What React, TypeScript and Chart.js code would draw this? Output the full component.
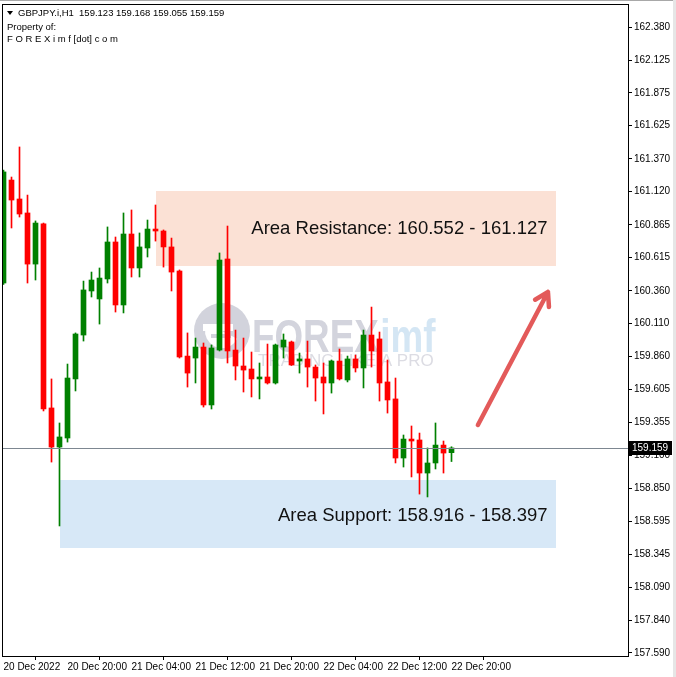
import React, { useEffect, useRef } from "react";
import { Chart, registerables } from "chart.js";

Chart.register(...registerables);

const symbolTitle = "GBPJPY.i,H1";
const propertyLine1 = "Property of:";
const propertyLine2 = "F O R E X i m f [dot] c o m";

const xTickBars = [0, 8, 16, 24, 32, 40, 48, 56];
const xTickLabels = [
  "20 Dec 2022",
  "20 Dec 20:00",
  "21 Dec 04:00",
  "21 Dec 12:00",
  "21 Dec 20:00",
  "22 Dec 04:00",
  "22 Dec 12:00",
  "22 Dec 20:00",
];
const yTickValues = [
  162.38, 162.125, 161.875, 161.625, 161.37, 161.12, 160.865, 160.615, 160.36, 160.11,
  159.86, 159.605, 159.355, 159.1, 158.85, 158.595, 158.345, 158.09, 157.84, 157.59,
];

const opens = [
  160.421, 161.209, 161.064, 160.957, 160.566, 160.873, 159.465, 159.166, 159.235, 159.687,
  160.023, 160.36, 160.299, 160.452, 160.735, 160.253, 160.796, 160.536, 160.689, 160.834,
  160.819, 160.697, 160.513, 159.862, 159.847, 159.931, 159.488, 159.908, 160.605, 159.908,
  159.786, 159.763, 159.687, 159.702, 159.656, 159.931, 159.97, 159.824, 159.84, 159.778,
  159.702, 159.656, 159.824, 159.679, 159.84, 159.771, 160.023, 159.993, 159.664, 159.534,
  159.082, 159.227, 159.22, 158.967, 159.044, 159.181, 159.123,
];
const highs = [
  161.285, 161.232, 161.462, 161.094, 160.896, 160.88, 159.687, 159.35, 159.801, 160.039,
  160.436, 160.505, 160.536, 160.85, 160.773, 160.957, 160.98, 160.804, 160.903, 161.018,
  160.827, 160.765, 160.521, 160.039, 160.0, 159.962, 159.947, 160.651, 160.857, 160.061,
  160.0, 159.893, 159.809, 159.954, 159.954, 160.031, 159.977, 159.885, 159.977, 159.794,
  159.809, 159.832, 159.916, 159.862, 159.87, 160.061, 160.237, 160.046, 159.832, 159.694,
  159.258, 159.327, 159.273, 159.159, 159.35, 159.212, 159.168,
];
const lows = [
  160.41, 160.842, 160.926, 160.421, 160.444, 159.442, 159.051, 158.562, 159.204, 159.595,
  159.977, 160.314, 160.107, 160.421, 160.199, 160.192, 160.467, 160.467, 160.62, 160.742,
  160.543, 160.36, 159.847, 159.625, 159.656, 159.472, 159.457, 159.901, 159.809, 159.679,
  159.587, 159.549, 159.534, 159.648, 159.648, 159.847, 159.79, 159.732, 159.625, 159.518,
  159.419, 159.579, 159.679, 159.664, 159.74, 159.618, 159.778, 159.518, 159.426, 159.044,
  159.013, 158.937, 158.806, 158.784, 158.998, 158.967, 159.055,
];
const closes = [
  161.271, 161.056, 160.949, 160.566, 160.88, 159.457, 159.166, 159.243, 159.694, 160.031,
  160.368, 160.444, 160.459, 160.735, 160.253, 160.796, 160.536, 160.697, 160.834, 160.819,
  160.697, 160.505, 159.855, 159.732, 159.931, 159.488, 159.924, 160.597, 159.901, 159.786,
  159.755, 159.687, 159.702, 159.656, 159.947, 159.985, 159.794, 159.84, 159.778, 159.694,
  159.656, 159.824, 159.687, 159.84, 159.771, 160.023, 159.901, 159.656, 159.526, 159.082,
  159.227, 159.212, 158.967, 159.044, 159.181, 159.12, 159.159,
];

// zones: [fromBar, toBar], [lowPrice, highPrice]
const resistanceBars = [19, 69];
const resistancePrices = [160.552, 161.127];
const supportBars = [7, 69];
const supportPrices = [158.397, 158.916];
const resistanceLabel = "Area Resistance: 160.552 - 161.127";
const supportLabel = "Area Support: 158.916 - 158.397";

// arrow: [bar, price]
const arrowStart = [59.3, 159.335];
const arrowEnd = [68.06, 160.352];

const watermarkMain = "FOREX";
const watermarkSub = "imf";
const watermarkTag = "TRADING LIKE A PRO";

const X_MIN = -0.1875;
const X_MAX = 78.0625;
const Y_MIN = 157.567;
const Y_MAX = 162.556;

const GREEN = "#008000";
const RED = "#ff0000";
const FONT = "'Liberation Sans', Arial, sans-serif";

export default function App() {
  const ref = useRef<HTMLCanvasElement>(null);

  useEffect(() => {
    const canvas = ref.current!;
    const idx = opens.map((_, i) => i);
    const colors = idx.map((i) => (closes[i] >= opens[i] ? GREEN : RED));
    const bodies = idx.map((i) => ({ x: i, y: [opens[i], closes[i]] }));
    const wicks = idx.map((i) => ({ x: i, y: [lows[i], highs[i]] }));
    const last = opens.length - 1;

    const overlay = {
      id: "overlay",
      beforeDraw(chart: any) {
        const ctx = chart.ctx;
        ctx.save();
        ctx.fillStyle = "#ffffff";
        ctx.fillRect(0, 0, chart.width, chart.height);
        ctx.restore();
      },
      beforeDatasetsDraw(chart: any) {
        const { ctx, chartArea: a, scales } = chart;
        const xs = scales.x;
        const ys = scales.y;
        ctx.save();
        ctx.beginPath();
        ctx.rect(a.left, a.top, a.right - a.left, a.bottom - a.top);
        ctx.clip();
        const zone = (bars: number[], prices: number[], color: string) => {
          const x1 = Math.round(xs.getPixelForValue(bars[0]));
          const x2 = Math.round(xs.getPixelForValue(bars[1]));
          const y1 = Math.round(ys.getPixelForValue(prices[1]));
          const y2 = Math.round(ys.getPixelForValue(prices[0]));
          ctx.fillStyle = color;
          ctx.fillRect(x1, y1, x2 - x1, y2 - y1);
        };
        zone(resistanceBars, resistancePrices, "#fbe1d5");
        zone(supportBars, supportPrices, "#d7e8f7");

        // watermark
        const cx = (a.left + a.right) / 2;
        const cy = (a.top + a.bottom) / 2;
        ctx.fillStyle = "#d2d3dc";
        ctx.beginPath();
        ctx.arc(cx - 93, cy + 1, 28, 0, Math.PI * 2);
        ctx.fill();
        ctx.fillStyle = "#ffffff";
        ctx.beginPath();
        ctx.arc(cx - 93, cy + 1, 17, Math.PI * 0.15, Math.PI * 1.05);
        ctx.lineTo(cx - 93, cy + 1);
        ctx.fill();
        ctx.fillRect(cx - 112, cy - 6, 30, 7);
        ctx.fillStyle = "#d2d3dc";
        ctx.fillRect(cx - 104, cy + 4, 20, 4);

        ctx.save();
        ctx.translate(cx - 63, cy + 22);
        ctx.scale(0.8, 1);
        ctx.font = `bold 46px ${FONT}`;
        ctx.textBaseline = "alphabetic";
        ctx.textAlign = "left";
        ctx.fillStyle = "#d3d4dd";
        ctx.fillText(watermarkMain, 0, 0);
        const w = ctx.measureText(watermarkMain).width;
        ctx.fillStyle = "#d4e6f4";
        ctx.fillText(watermarkSub, w + 2, 0);
        ctx.restore();

        ctx.font = `17px ${FONT}`;
        ctx.fillStyle = "#dcdce3";
        ctx.textAlign = "left";
        ctx.textBaseline = "alphabetic";
        ctx.fillText(watermarkTag, cx - 57, cy + 36);
        ctx.restore();
      },
      afterDatasetsDraw(chart: any) {
        const { ctx, chartArea: a, scales } = chart;
        const xs = scales.x;
        const ys = scales.y;
        ctx.save();
        ctx.beginPath();
        ctx.rect(a.left, a.top, a.right - a.left, a.bottom - a.top);
        ctx.clip();

        // zone labels
        ctx.font = `18.5px ${FONT}`;
        ctx.fillStyle = "#111111";
        ctx.textAlign = "right";
        ctx.textBaseline = "middle";
        const rx = xs.getPixelForValue(resistanceBars[1]) - 8;
        const ry = (ys.getPixelForValue(resistancePrices[0]) + ys.getPixelForValue(resistancePrices[1])) / 2;
        ctx.fillText(resistanceLabel, rx, ry + 1);
        const sx = xs.getPixelForValue(supportBars[1]) - 8;
        const sy = (ys.getPixelForValue(supportPrices[0]) + ys.getPixelForValue(supportPrices[1])) / 2;
        ctx.fillText(supportLabel, sx, sy + 2);

        // bid line
        const py = Math.round(ys.getPixelForValue(closes[last])) + 0.5;
        ctx.strokeStyle = "#7d8791";
        ctx.lineWidth = 1;
        ctx.beginPath();
        ctx.moveTo(a.left, py);
        ctx.lineTo(a.right, py);
        ctx.stroke();

        // arrow
        const ax1 = xs.getPixelForValue(arrowStart[0]);
        const ay1 = ys.getPixelForValue(arrowStart[1]);
        const ax2 = xs.getPixelForValue(arrowEnd[0]);
        const ay2 = ys.getPixelForValue(arrowEnd[1]);
        ctx.strokeStyle = "#e35a5a";
        ctx.lineWidth = 4.5;
        ctx.lineCap = "round";
        ctx.lineJoin = "round";
        ctx.beginPath();
        ctx.moveTo(ax1, ay1);
        ctx.lineTo(ax2, ay2);
        const ang = Math.atan2(ay2 - ay1, ax2 - ax1);
        for (const s of [-1, 1]) {
          const b = ang + Math.PI + s * 0.55;
          ctx.moveTo(ax2, ay2);
          ctx.lineTo(ax2 + 15 * Math.cos(b), ay2 + 15 * Math.sin(b));
        }
        ctx.stroke();
        ctx.restore();
      },
      afterDraw(chart: any) {
        const { ctx, chartArea: a, scales } = chart;
        const ys = scales.y;
        ctx.save();
        // frame
        ctx.strokeStyle = "#000000";
        ctx.lineWidth = 1;
        ctx.strokeRect(a.left + 0.5, a.top + 0.5, a.right - a.left, a.bottom - a.top);

        // outer window edges
        ctx.fillStyle = "#a8a8a8";
        ctx.fillRect(0, 0, chart.width, 1);
        ctx.fillStyle = "#e6e6e6";
        ctx.fillRect(chart.width - 3, 0, 3, chart.height);

        // header
        ctx.fillStyle = "#000000";
        ctx.beginPath();
        ctx.moveTo(7, 11);
        ctx.lineTo(13, 11);
        ctx.lineTo(10, 15);
        ctx.closePath();
        ctx.fill();
        ctx.font = `9.5px ${FONT}`;
        ctx.textAlign = "left";
        ctx.textBaseline = "middle";
        const hdr = `${symbolTitle}  ${opens[last].toFixed(3)} ${highs[last].toFixed(3)} ${lows[last].toFixed(3)} ${closes[last].toFixed(3)}`;
        ctx.fillText(hdr, 18, 13);
        ctx.fillText(propertyLine1, 7, 27);
        ctx.fillText(propertyLine2, 7, 39);

        // price label
        const py = Math.round(ys.getPixelForValue(closes[last]));
        ctx.fillStyle = "#000000";
        ctx.fillRect(a.right + 1, py - 7, 43, 14);
        ctx.fillStyle = "#ffffff";
        ctx.font = `10px ${FONT}`;
        ctx.textBaseline = "middle";
        ctx.fillText(closes[last].toFixed(3), a.right + 4, py + 0.5);
        ctx.restore();
      },
    };

    const chart = new Chart(canvas, {
      type: "bar",
      data: {
        datasets: [
          {
            data: wicks as any,
            backgroundColor: colors,
            barThickness: 1,
            grouped: false,
            borderWidth: 0,
            order: 2,
          },
          {
            data: bodies as any,
            backgroundColor: colors,
            barThickness: 5,
            grouped: false,
            borderWidth: 0,
            minBarLength: 1,
            order: 1,
          },
        ],
      },
      options: {
        animation: false,
        responsive: false,
        devicePixelRatio: 1,
        layout: { padding: { left: 2, top: 4, right: 0, bottom: 0 } },
        plugins: { legend: { display: false }, tooltip: { enabled: false } },
        scales: {
          x: {
            type: "linear",
            position: "bottom",
            min: X_MIN,
            max: X_MAX,
            offset: false,
            border: { display: false },
            grid: {
              display: true,
              drawOnChartArea: false,
              drawTicks: true,
              tickLength: 4,
              color: "#000000",
            },
            ticks: {
              align: "start",
              autoSkip: false,
              maxRotation: 0,
              minRotation: 0,
              padding: 1,
              color: "#000000",
              font: { family: FONT, size: 10 },
              callback: (v: any) => {
                const k = xTickBars.indexOf(Number(v));
                return k >= 0 ? xTickLabels[k] : "";
              },
            },
            afterBuildTicks: (s: any) => {
              s.ticks = xTickBars.map((v) => ({ value: v }));
            },
            afterFit: (s: any) => {
              s.height = 21;
              s.paddingLeft = 0;
              s.paddingRight = 0;
              s.paddingTop = 0;
              s.paddingBottom = 0;
            },
          },
          y: {
            type: "linear",
            position: "right",
            min: Y_MIN,
            max: Y_MAX,
            border: { display: false },
            grid: {
              display: true,
              drawOnChartArea: false,
              drawTicks: true,
              tickLength: 4,
              color: "#000000",
            },
            ticks: {
              padding: 2,
              color: "#000000",
              font: { family: FONT, size: 10 },
              callback: (v: any) => Number(v).toFixed(3),
            },
            afterBuildTicks: (s: any) => {
              s.ticks = yTickValues.map((v) => ({ value: v }));
            },
            afterFit: (s: any) => {
              s.width = 48;
              s.paddingTop = 0;
              s.paddingBottom = 0;
              s.paddingLeft = 0;
              s.paddingRight = 0;
            },
          },
        },
      } as any,
      plugins: [overlay],
    });
    return () => chart.destroy();
  }, []);

  return (
    <div style={{ position: "fixed", left: 0, top: 0, width: 676, height: 677, overflow: "hidden", background: "#fff" }}>
      <canvas ref={ref} width={676} height={677} style={{ display: "block", width: 676, height: 677 }} />
    </div>
  );
}
